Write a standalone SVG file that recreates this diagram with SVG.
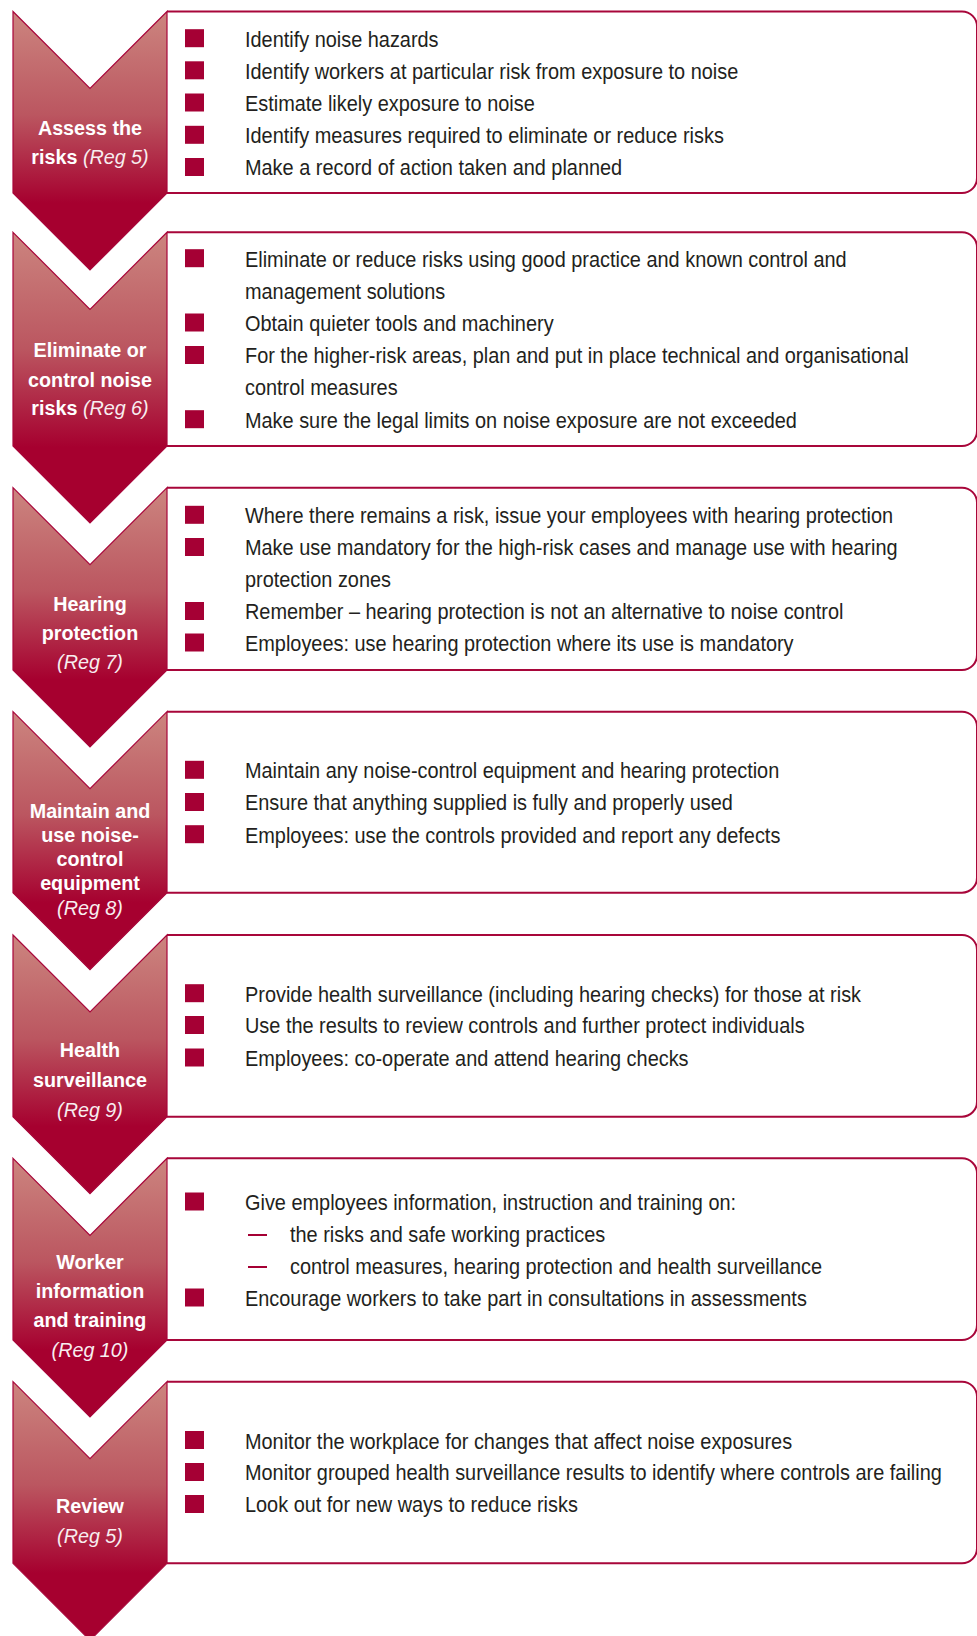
<svg xmlns="http://www.w3.org/2000/svg" width="977" height="1636" viewBox="0 0 977 1636">
<defs>
<linearGradient id="chev" x1="0" y1="0" x2="0" y2="1">
<stop offset="0" stop-color="#cc857f"/>
<stop offset="0.4" stop-color="#bb5660"/>
<stop offset="0.74" stop-color="#a6002f"/>
<stop offset="1" stop-color="#a6002f"/>
</linearGradient>
</defs>
<style>
.box{fill:#fff;stroke:#a8063a;stroke-width:2}
.chev{fill:url(#chev);stroke:#a8063a;stroke-width:1.2}
.bul{fill:#a50034}
.dash{stroke:#a50034;stroke-width:2}
.body{font-family:"Liberation Sans",Arial,sans-serif;font-size:22px;fill:#231f20}
.ttl{font-family:"Liberation Sans",Arial,sans-serif;font-size:21px;font-weight:bold;fill:#fff;text-anchor:middle}
.reg{font-weight:normal;font-style:italic;fill:#f8eef0}
</style>
<rect width="977" height="1636" fill="#fff"/>

<g id="step-assess">
<path class="box" d="M167,11.5 H962 A15,15 0 0 1 977,26.5 V178 A15,15 0 0 1 962,193 H167"/>
<polygon class="chev" points="13,11.5 90,88.5 167,11.5 167,193 90,270 13,193"/>
<g transform="scale(0.94 1)"><text class="ttl" x="95.74" y="135">Assess the</text><text class="ttl" x="95.74" y="164">risks <tspan class="reg">(Reg 5)</tspan></text></g>
<rect class="bul" x="185" y="29.2" width="19" height="18"/>
<rect class="bul" x="185" y="61.3" width="19" height="18"/>
<rect class="bul" x="185" y="93.5" width="19" height="18"/>
<rect class="bul" x="185" y="125.8" width="19" height="18"/>
<rect class="bul" x="185" y="158" width="19" height="18"/>
<g transform="scale(0.905 1)" class="body">
<text x="270.7" y="46.7">Identify noise hazards</text>
<text x="270.7" y="78.8">Identify workers at particular risk from exposure to noise</text>
<text x="270.7" y="111">Estimate likely exposure to noise</text>
<text x="270.7" y="143.3">Identify measures required to eliminate or reduce risks</text>
<text x="270.7" y="175.5">Make a record of action taken and planned</text>
</g>
</g>

<g id="step-eliminate">
<path class="box" d="M167,232.3 H962 A15,15 0 0 1 977,247.3 V431 A15,15 0 0 1 962,446 H167"/>
<polygon class="chev" points="13,232.3 90,309.3 167,232.3 167,446 90,523 13,446"/>
<g transform="scale(0.94 1)"><text class="ttl" x="95.74" y="357.3">Eliminate or</text><text class="ttl" x="95.74" y="386.7">control noise</text><text class="ttl" x="95.74" y="415">risks <tspan class="reg">(Reg 6)</tspan></text></g>
<rect class="bul" x="185" y="249.2" width="19" height="18"/>
<rect class="bul" x="185" y="313.5" width="19" height="18"/>
<rect class="bul" x="185" y="346" width="19" height="18"/>
<rect class="bul" x="185" y="410.2" width="19" height="18"/>
<g transform="scale(0.905 1)" class="body">
<text x="270.7" y="266.7">Eliminate or reduce risks using good practice and known control and</text>
<text x="270.7" y="299">management solutions</text>
<text x="270.7" y="331">Obtain quieter tools and machinery</text>
<text x="270.7" y="363.5">For the higher-risk areas, plan and put in place technical and organisational</text>
<text x="270.7" y="395.5">control measures</text>
<text x="270.7" y="427.7">Make sure the legal limits on noise exposure are not exceeded</text>
</g>
</g>

<g id="step-hearing">
<path class="box" d="M167,487.7 H962 A15,15 0 0 1 977,502.7 V655 A15,15 0 0 1 962,670 H167"/>
<polygon class="chev" points="13,487.7 90,564.7 167,487.7 167,670 90,747 13,670"/>
<g transform="scale(0.94 1)"><text class="ttl" x="95.74" y="610.7">Hearing</text><text class="ttl" x="95.74" y="640">protection</text><text class="ttl reg" x="95.74" y="669">(Reg 7)</text></g>
<rect class="bul" x="185" y="505.8" width="19" height="18"/>
<rect class="bul" x="185" y="538" width="19" height="18"/>
<rect class="bul" x="185" y="602" width="19" height="18"/>
<rect class="bul" x="185" y="633.5" width="19" height="18"/>
<g transform="scale(0.905 1)" class="body">
<text x="270.7" y="523.3">Where there remains a risk, issue your employees with hearing protection</text>
<text x="270.7" y="555.5">Make use mandatory for the high-risk cases and manage use with hearing</text>
<text x="270.7" y="587.5">protection zones</text>
<text x="270.7" y="619.5">Remember – hearing protection is not an alternative to noise control</text>
<text x="270.7" y="651">Employees: use hearing protection where its use is mandatory</text>
</g>
</g>

<g id="step-maintain">
<path class="box" d="M167,711.7 H962 A15,15 0 0 1 977,726.7 V877.7 A15,15 0 0 1 962,892.7 H167"/>
<polygon class="chev" points="13,711.7 90,788.7 167,711.7 167,892.7 90,969.7 13,892.7"/>
<g transform="scale(0.94 1)"><text class="ttl" x="95.74" y="818.3">Maintain and</text><text class="ttl" x="95.74" y="841.7">use noise-</text><text class="ttl" x="95.74" y="865.7">control</text><text class="ttl" x="95.74" y="890">equipment</text><text class="ttl reg" x="95.74" y="915">(Reg 8)</text></g>
<rect class="bul" x="185" y="760.8" width="19" height="18"/>
<rect class="bul" x="185" y="793" width="19" height="18"/>
<rect class="bul" x="185" y="825.2" width="19" height="18"/>
<g transform="scale(0.905 1)" class="body">
<text x="270.7" y="778.3">Maintain any noise-control equipment and hearing protection</text>
<text x="270.7" y="810.5">Ensure that anything supplied is fully and properly used</text>
<text x="270.7" y="842.7">Employees: use the controls provided and report any defects</text>
</g>
</g>

<g id="step-health">
<path class="box" d="M167,935 H962 A15,15 0 0 1 977,950 V1101.7 A15,15 0 0 1 962,1116.7 H167"/>
<polygon class="chev" points="13,935 90,1012 167,935 167,1116.7 90,1193.7 13,1116.7"/>
<g transform="scale(0.94 1)"><text class="ttl" x="95.74" y="1057.3">Health</text><text class="ttl" x="95.74" y="1086.7">surveillance</text><text class="ttl reg" x="95.74" y="1116.7">(Reg 9)</text></g>
<rect class="bul" x="185" y="984.2" width="19" height="18"/>
<rect class="bul" x="185" y="1016" width="19" height="18"/>
<rect class="bul" x="185" y="1048.5" width="19" height="18"/>
<g transform="scale(0.905 1)" class="body">
<text x="270.7" y="1001.7">Provide health surveillance (including hearing checks) for those at risk</text>
<text x="270.7" y="1033.5">Use the results to review controls and further protect individuals</text>
<text x="270.7" y="1066">Employees: co-operate and attend hearing checks</text>
</g>
</g>

<g id="step-training">
<path class="box" d="M167,1158.3 H962 A15,15 0 0 1 977,1173.3 V1325 A15,15 0 0 1 962,1340 H167"/>
<polygon class="chev" points="13,1158.3 90,1235.3 167,1158.3 167,1340 90,1417 13,1340"/>
<g transform="scale(0.94 1)"><text class="ttl" x="95.74" y="1269.3">Worker</text><text class="ttl" x="95.74" y="1298.3">information</text><text class="ttl" x="95.74" y="1326.7">and training</text><text class="ttl reg" x="95.74" y="1356.7">(Reg 10)</text></g>
<rect class="bul" x="185" y="1192.5" width="19" height="18"/>
<line class="dash" x1="248" y1="1235" x2="267" y2="1235"/>
<line class="dash" x1="248" y1="1267" x2="267" y2="1267"/>
<rect class="bul" x="185" y="1288.5" width="19" height="18"/>
<g transform="scale(0.905 1)" class="body">
<text x="270.7" y="1210">Give employees information, instruction and training on:</text>
<text x="320.4" y="1242">the risks and safe working practices</text>
<text x="320.4" y="1274">control measures, hearing protection and health surveillance</text>
<text x="270.7" y="1306">Encourage workers to take part in consultations in assessments</text>
</g>
</g>

<g id="step-review">
<path class="box" d="M167,1381.7 H962 A15,15 0 0 1 977,1396.7 V1548.3 A15,15 0 0 1 962,1563.3 H167"/>
<polygon class="chev" points="13,1381.7 90,1458.7 167,1381.7 167,1563.3 90,1640.3 13,1563.3"/>
<g transform="scale(0.94 1)"><text class="ttl" x="95.74" y="1513.3">Review</text><text class="ttl reg" x="95.74" y="1543">(Reg 5)</text></g>
<rect class="bul" x="185" y="1431" width="19" height="18"/>
<rect class="bul" x="185" y="1463" width="19" height="18"/>
<rect class="bul" x="185" y="1495" width="19" height="18"/>
<g transform="scale(0.905 1)" class="body">
<text x="270.7" y="1448.7">Monitor the workplace for changes that affect noise exposures</text>
<text x="270.7" y="1480.5">Monitor grouped health surveillance results to identify where controls are failing</text>
<text x="270.7" y="1512.3">Look out for new ways to reduce risks</text>
</g>
</g>
</svg>
